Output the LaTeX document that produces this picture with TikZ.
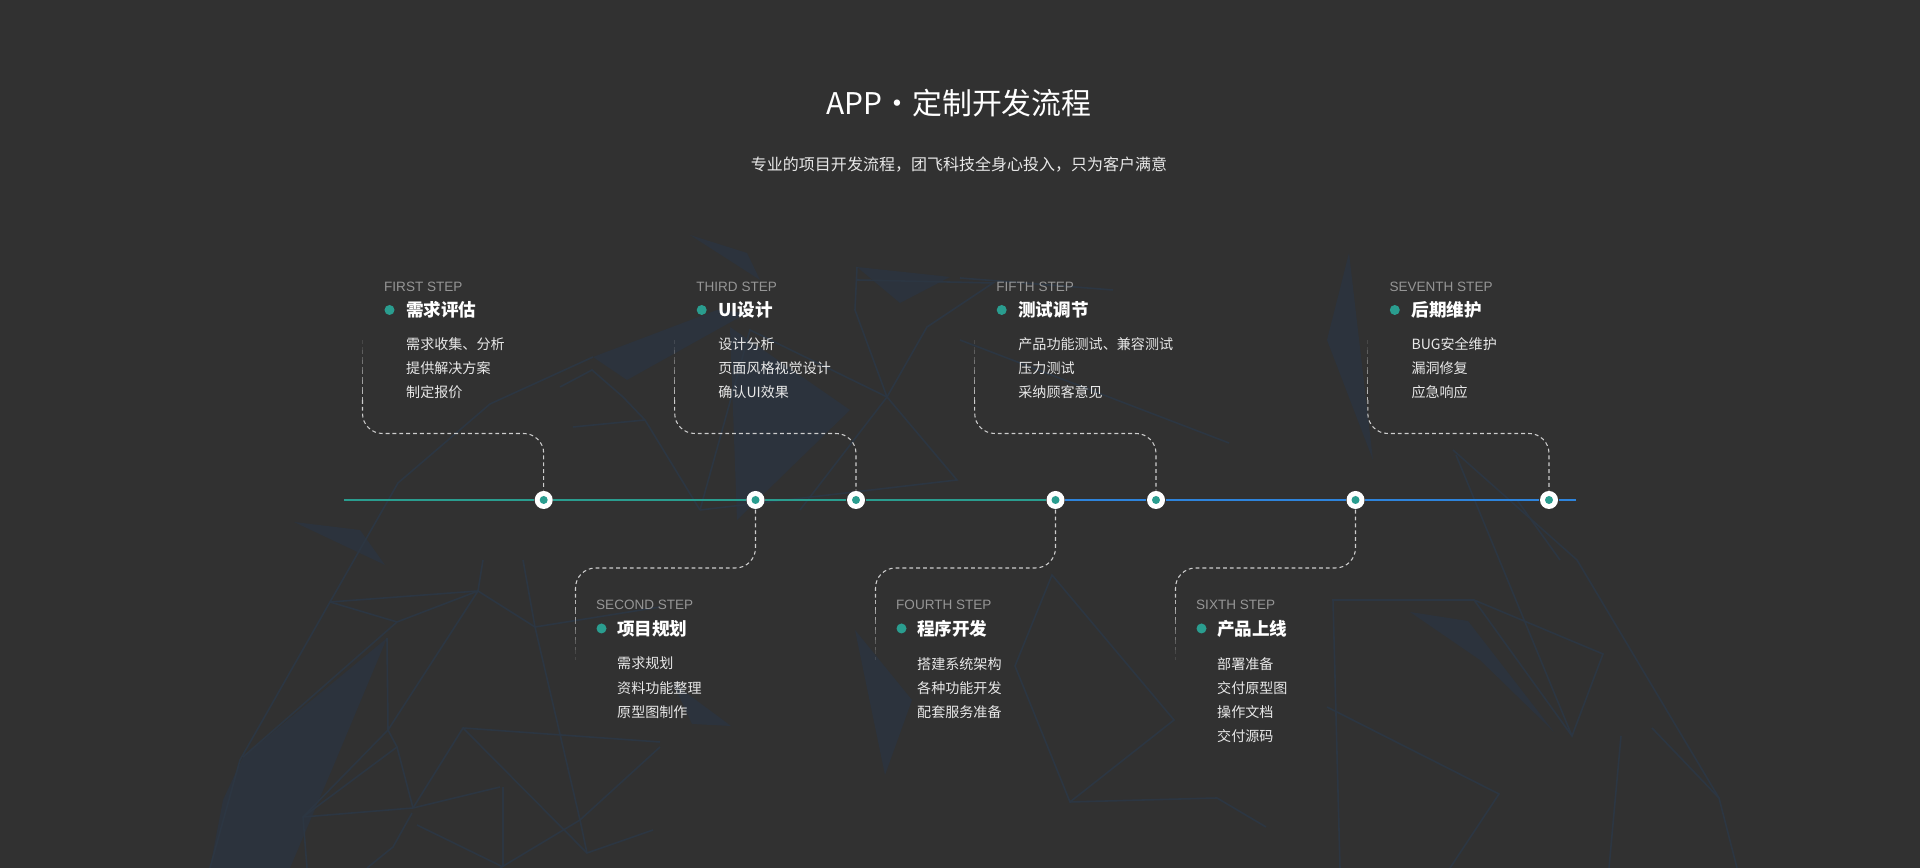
\documentclass[tikz,border=0pt]{standalone}
\usepackage{fontspec}
\setmainfont{Liberation Sans}
\newfontfamily\cjkFont{Noto Sans CJK SC}
\usepackage{tikz}
\usetikzlibrary{positioning,calc}
\definecolor{bgCol}{RGB}{49, 49, 49}
\definecolor{bgLineCol}{RGB}{44, 54, 66}
\definecolor{bgFillCol}{RGB}{44, 51, 61}
\definecolor{tealCol}{RGB}{42, 157, 143}
\definecolor{blueCol}{RGB}{46, 132, 220}
\definecolor{labelGrayCol}{RGB}{150, 150, 150}
\definecolor{connCol}{RGB}{205, 205, 205}
\definecolor{itemTextCol}{RGB}{232, 232, 232}
\tikzset{myBgLine/.style={line width=0.45pt,color=bgLineCol}}
\tikzset{myBgFill/.style={fill=bgFillCol}}
\tikzset{myTealLine/.style={line width=0.7pt,color=tealCol}}
\tikzset{myBlueLine/.style={line width=0.7pt,color=blueCol}}
\tikzset{myConn/.style={draw=connCol, line width=0.3pt, dash pattern=on 1.1pt off 0.85pt}}
\tikzset{myTimeDot/.style={circle, fill=white, inner sep=0pt, minimum size=1.8mm,
	path picture={\fill[tealCol] (path picture bounding box.center) circle (0.4mm);}}}
\tikzset{myHeadDot/.style={circle, fill=tealCol, inner sep=0pt, minimum size=1mm}}
\tikzset{myStepLabel/.style={anchor=west, inner sep=0pt, text=labelGrayCol, font=\fontsize{3.85pt}{4.5pt}\selectfont}}
\tikzset{myStepHead/.style={anchor=west, inner sep=0pt, text=white, font=\cjkFont\bfseries\fontsize{5pt}{6pt}\selectfont}}
\tikzset{myStepItem/.style={anchor=north west, inner sep=0pt, align=left, text=itemTextCol, font=\cjkFont\fontsize{4pt}{6.83pt}\selectfont}}

\begin{document}
\begin{tikzpicture}[x=0.01cm,y=-0.01cm]
	\fill[bgCol](0,0) rectangle (1920,868);
	\useasboundingbox (0,0) rectangle (1920,868);
	
	% background net
	\fill[myBgFill](243,757)--(387,638)--(333,767)--(290,868)--(210,868)--(223,800)--cycle;
	\fill[myBgFill](294,522)--(385,565)--(360,530)--cycle;
	\fill[myBgFill](690,235)--(747,253)--(760,280)--cycle;
	\fill[myBgFill](593,357)--(717,310)--(747,313)--(627,380)--cycle;
	\fill[myBgFill](730,327)--(850,410)--(737,520)--cycle;
	\fill[myBgFill](857,267)--(950,277)--(900,303)--cycle;
	\fill[myBgFill](673,683)--(731,726)--(692,724)--cycle;
	\fill[myBgFill](855,630)--(912,700)--(885,775)--cycle;
	\fill[myBgFill](1349,253)--(1327,340)--(1373,460)--cycle;
	\fill[myBgFill](1410,612)--(1468,621)--(1554,732)--(1480,660)--cycle;
	\draw[myBgLine](210,868)--(240,760)--(330,602)--(478,591)--(535,627)--(660,607);
	\draw[myBgLine](330,602)--(397,622)--(478,591)--(483,560);
	\draw[myBgLine](397,622)--(243,757);
	\draw[myBgLine](523,560)--(535,627)--(580,820)--(587,853)--(653,830);
	\draw[myBgLine](387,638)--(388,730)--(303,817)--(307,868);
	\draw[myBgLine](478,591)--(388,730)--(397,747)--(413,808)--(500,787);
	\draw[myBgLine](303,817)--(413,808);
	\draw[myBgLine](397,747)--(303,817);
	\draw[myBgLine](413,808)--(463,728)--(660,742);
	\draw[myBgLine](463,728)--(587,853);
	\draw[myBgLine](503,787)--(503,867);
	\draw[myBgLine](417,825)--(503,867);
	\draw[myBgLine](412,813)--(393,847)--(367,868);
	\draw[myBgLine](660,747)--(580,820)--(500,868);
	\draw[myBgLine](330,602)--(398,483)--(490,404)--(593,357);
	\draw[myBgLine](560,387)--(592,370)--(623,397)--(645,420)--(700,510);
	\draw[myBgLine](573,427)--(645,420);
	\draw[myBgLine](700,510)--(750,330)--(887,397)--(957,480)--(700,510);
	\draw[myBgLine](887,397)--(927,327)--(993,283)--(857,280);
	\draw[myBgLine](887,397)--(800,510);
	\draw[myBgLine](887,397)--(855,310)--(857,267);
	\draw[myBgLine](960,278)--(1113,290);
	\draw[myBgLine](960,340)--(1229,443);
	\draw[myBgLine](1052,575)--(1174,720)--(1070,802)--(1015,666)--cycle;
	\draw[myBgLine](1070,802)--(1217,798)--(1266,827);
	\draw[myBgLine](1456,455)--(1572,736)--(1603,654)--(1474,600)--(1333,600)--(1340,868);
	\draw[myBgLine](1474,600)--(1572,736);
	\draw[myBgLine](1453,450)--(1577,560)--(1719,798)--(1737,868);
	\draw[myBgLine](1517,500)--(1560,560);
	\draw[myBgLine](1621,736)--(1609,868);
	\draw[myBgLine](1652,728)--(1719,798);
	\draw[myBgLine](1327,707)--(1499,794)--(1450,868);
	
	% title
	\node[text=white, font=\cjkFont\fontsize{8.5pt}{10pt}\selectfont] (title) at (959,103) {APP・定制开发流程};
	\node[text=itemTextCol, font=\cjkFont\fontsize{4.55pt}{5.5pt}\selectfont] (subtitle) at (959,165) {专业的项目开发流程，团飞科技全身心投入，只为客户满意};
	
	% timeline
	\coordinate (lineStart) at (344,500);
	\coordinate (lineEnd) at (1576,500);
	\node[myTimeDot] (d1) at (543.7,500) {};
	\node[myTimeDot] (d2) at (755.5,500) {};
	\node[myTimeDot] (d3) at (856,500) {};
	\node[myTimeDot] (d4) at (1055.5,500) {};
	\node[myTimeDot] (d5) at (1156,500) {};
	\node[myTimeDot] (d6) at (1355.5,500) {};
	\node[myTimeDot] (d7) at (1549,500) {};
	\draw[myTealLine](lineStart)--(d1)--(d2)--(d3)--(d4);
	\draw[myBlueLine](d4)--(d5)--(d6)--(d7)--(lineEnd);
	
	% connectors above
	\foreach \cx/\dd in {362.5/d1, 674.7/d3, 974.7/d5, 1367.8/d7}{
		\coordinate (c\dd) at (\cx,400);
		\foreach \k [evaluate=\k as \op using (\k+1)/7] in {0,...,5}
			\draw[myConn, opacity=\op] ($(c\dd)+(0,-60+\k*10)$) -- ++(0,10);
		\draw[myConn, rounded corners=2mm](c\dd) |- (\dd |- 0,433.5) -- (\dd);
	}
	% connectors below
	\foreach \cx/\dd in {575.5/d2, 875.5/d4, 1175.5/d6}{
		\coordinate (c\dd) at (\cx,600);
		\draw[myConn, rounded corners=2mm](\dd) |- (\cx,568) -- (c\dd);
		\foreach \k [evaluate=\k as \op using (6-\k)/7] in {0,...,5}
			\draw[myConn, opacity=\op] ($(c\dd)+(0,\k*10)$) -- ++(0,10);
	}
	
	% FIRST STEP
	\node[myStepLabel] (lab1) at (383.5,286.5) {FIRST STEP};
	\node[myHeadDot] (hd1) at (389.5,310) {};
	\node[myStepHead] (head1) at (405.5,310) {需求评估};
	\node[myStepItem] (items1) at (405.5,337) {需求收集、分析\\提供解决方案\\制定报价};
	% THIRD STEP
	\node[myStepLabel] (lab3) at (695.7,286.5) {THIRD STEP};
	\node[myHeadDot] (hd3) at (701.7,310) {};
	\node[myStepHead] (head3) at (717.7,310) {UI设计};
	\node[myStepItem] (items3) at (717.7,337) {设计分析\\页面风格视觉设计\\确认UI效果};
	% FIFTH STEP
	\node[myStepLabel] (lab5) at (995.7,286.5) {FIFTH STEP};
	\node[myHeadDot] (hd5) at (1001.7,310) {};
	\node[myStepHead] (head5) at (1017.7,310) {测试调节};
	\node[myStepItem] (items5) at (1017.7,337) {产品功能测试、兼容测试\\压力测试\\采纳顾客意见};
	% SEVENTH STEP
	\node[myStepLabel] (lab7) at (1388.8,286.5) {SEVENTH STEP};
	\node[myHeadDot] (hd7) at (1394.8,310) {};
	\node[myStepHead] (head7) at (1410.8,310) {后期维护};
	\node[myStepItem] (items7) at (1410.8,337) {BUG安全维护\\漏洞修复\\应急响应};
	% SECOND STEP
	\node[myStepLabel] (lab2) at (595.5,605) {SECOND STEP};
	\node[myHeadDot] (hd2) at (601.5,628.5) {};
	\node[myStepHead] (head2) at (616.5,628.5) {项目规划};
	\node[myStepItem] (items2) at (616.5,656.5) {需求规划\\资料功能整理\\原型图制作};
	% FOURTH STEP
	\node[myStepLabel] (lab4) at (895.5,605) {FOURTH STEP};
	\node[myHeadDot] (hd4) at (901.5,628.5) {};
	\node[myStepHead] (head4) at (916.5,628.5) {程序开发};
	\node[myStepItem] (items4) at (916.5,656.5) {搭建系统架构\\各种功能开发\\配套服务准备};
	% SIXTH STEP
	\node[myStepLabel] (lab6) at (1195.5,605) {SIXTH STEP};
	\node[myHeadDot] (hd6) at (1201.5,628.5) {};
	\node[myStepHead] (head6) at (1216.5,628.5) {产品上线};
	\node[myStepItem] (items6) at (1216.5,656.5) {部署准备\\交付原型图\\操作文档\\交付源码};

\end{tikzpicture}
\end{document}
